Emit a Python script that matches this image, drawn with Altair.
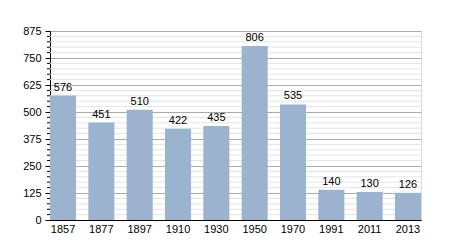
import altair as alt
import pandas as pd

years = ["1857", "1877", "1897", "1910", "1930", "1950", "1970", "1991", "2011", "2013"]
population = [576, 451, 510, 422, 435, 806, 535, 140, 130, 126]
major_ticks = [0, 125, 250, 375, 500, 625, 750, 875]
minor_ticks = [v for v in range(25, 875, 25) if v % 125 != 0]

df = pd.DataFrame({"year": years, "pop": population})
minor = pd.DataFrame({"v": minor_ticks})

W, H = 371, 189
FONT = "Liberation Sans"

yscale = alt.Scale(domain=[0, 875], nice=False)
yaxis = alt.Axis(values=major_ticks, grid=True, gridColor="#aaaaaa",
                 domainColor="#000000", tickColor="#000000", tickSize=5,
                 labelFont=FONT, labelFontSize=11, labelColor="#000000",
                 labelPadding=4, labelOverlap=False, labelFlush=False)

minor_grid = alt.Chart(minor).mark_rule(color="#e4e4e4", strokeWidth=1).encode(
    y=alt.Y("v:Q", scale=yscale, axis=yaxis, title=None),
    x=alt.value(0), x2=alt.value(W),
)
minor_ticks_layer = alt.Chart(minor).mark_rule(color="#000000", strokeWidth=1).encode(
    y=alt.Y("v:Q", scale=yscale, axis=yaxis, title=None),
    x=alt.value(-3), x2=alt.value(0),
)

bars = alt.Chart(df).mark_bar(color="#9bb3cf").encode(
    x=alt.X("year:N", sort=years, title=None,
            scale=alt.Scale(paddingInner=0.32, paddingOuter=0),
            axis=alt.Axis(labelAngle=0, ticks=False, domainColor="#000000",
                          labelFont=FONT, labelFontSize=11, labelColor="#000000",
                          labelPadding=3, grid=False)),
    y=alt.Y("pop:Q", scale=yscale, axis=yaxis, title=None),
)

labels = alt.Chart(df).mark_text(baseline="bottom", dy=-3, font=FONT, fontSize=11,
                                 color="#000000").encode(
    x=alt.X("year:N", sort=years),
    y=alt.Y("pop:Q", scale=yscale, axis=yaxis, title=None),
    text="pop:Q",
)

chart = alt.layer(minor_grid, minor_ticks_layer, bars, labels).properties(
    width=W, height=H,
    autosize=alt.AutoSizeParams(type="none"),
    padding={"left": 50, "top": 31, "right": 29, "bottom": 30},
).configure_view(stroke=None).configure(background="#ffffff")

chart.save("out.html", embed_options={"renderer": "svg", "actions": False})
